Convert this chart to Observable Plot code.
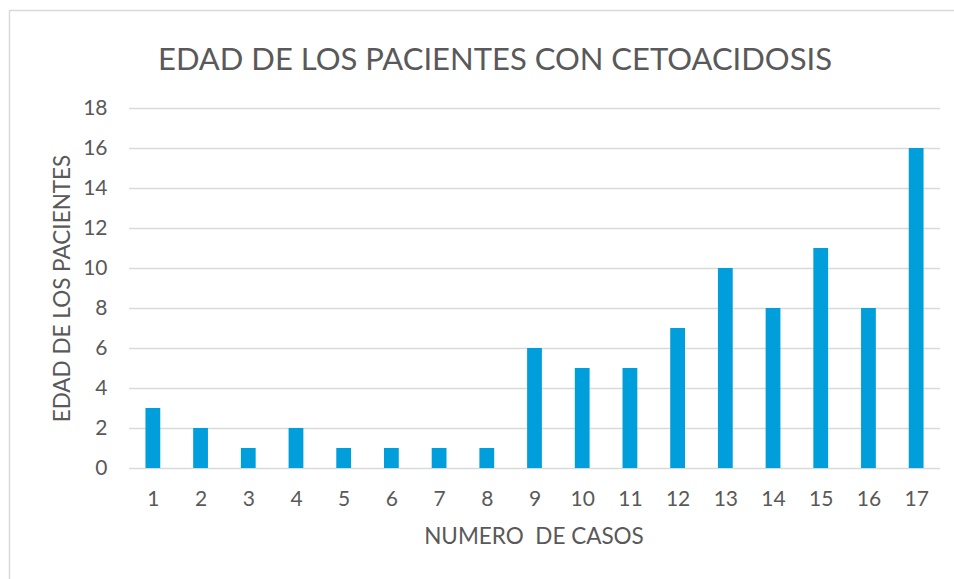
<!DOCTYPE html>
<html>
<head>
<meta charset="utf-8">
<script src="https://cdn.jsdelivr.net/npm/d3@7"></script>
<script src="https://cdn.jsdelivr.net/npm/@observablehq/plot@0.6"></script>
<style>
  html, body { margin: 0; padding: 0; background: #fff; }
  #chart svg { display: block; }
</style>
</head>
<body>
<div id="chart"></div>
<script>
const casos = ["1","2","3","4","5","6","7","8","9","10","11","12","13","14","15","16","17"];
const edades = [3, 2, 1, 2, 1, 1, 1, 1, 6, 5, 5, 7, 10, 8, 11, 8, 16];
const yTicks = [0, 2, 4, 6, 8, 10, 12, 14, 16, 18];
const titulo = "EDAD DE LOS PACIENTES CON CETOACIDOSIS";
const tituloX = "NUMERO  DE CASOS";
const tituloY = "EDAD DE LOS PACIENTES";

const data = casos.map((c, i) => ({caso: c, edad: edades[i]}));

const chart = Plot.plot({
  width: 954,
  height: 579,
  marginLeft: 129,
  marginRight: 14,
  marginTop: 108,
  marginBottom: 111,
  style: {fontFamily: "Lato, 'Open Sans', sans-serif", fontSize: "21px", color: "#595959", background: "#fff", overflow: "visible"},
  x: {domain: casos, paddingInner: 0.69, paddingOuter: 0.345, round: false, label: null},
  y: {domain: [0, 18], ticks: yTicks, label: null},
  marks: [
    Plot.gridY(yTicks, {stroke: "#d9d9d9", strokeOpacity: 1, strokeWidth: 1.5}),
    Plot.barY(data, {x: "caso", y: "edad", fill: "#009fdb"}),
    Plot.axisX({tickSize: 0, tickPadding: 23, fontSize: 21, fill: "#595959", label: null}),
    Plot.axisY(yTicks, {tickSize: 0, tickPadding: 22, fontSize: 21, fill: "#595959", label: null}),
    Plot.text([titulo], {frameAnchor: "top", dx: -40, dy: -61, fontSize: 31, fill: "#595959"}),
    Plot.text([tituloX], {frameAnchor: "bottom", dx: -1, dy: 75, fontSize: 22.5, fill: "#595959"}),
    Plot.text([tituloY], {frameAnchor: "left", dx: -67, rotate: -90, textAnchor: "middle", fontSize: 22.5, fill: "#595959"})
  ]
});

d3.select(chart).append("rect")
  .attr("x", 9.5).attr("y", 10.5)
  .attr("width", 1000).attr("height", 1000)
  .attr("fill", "none").attr("stroke", "#d9d9d9").attr("stroke-width", 1.5);

document.getElementById("chart").appendChild(chart);
</script>
</body>
</html>
